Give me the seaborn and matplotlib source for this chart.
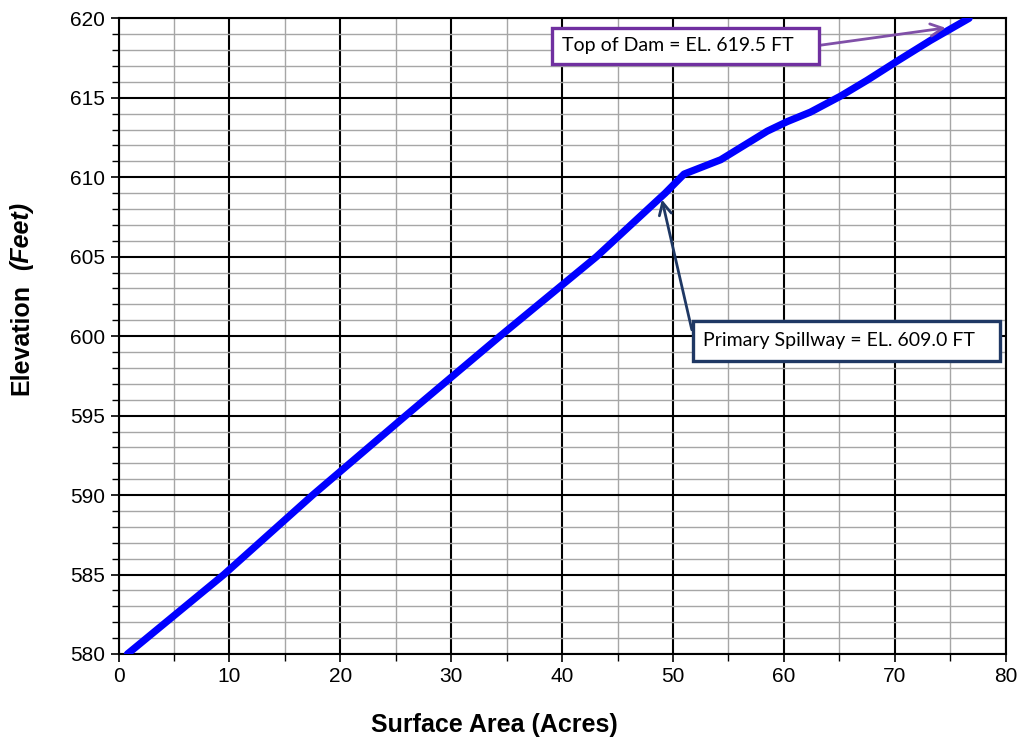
import matplotlib
matplotlib.use("Agg")
import matplotlib.pyplot as plt
from matplotlib.patches import Rectangle
from matplotlib.ticker import MultipleLocator
import seaborn as sns

# stage-area curve
area = [0.8, 9.5, 17.5, 25.9, 34.4, 43.1, 49.3, 51.0, 54.3, 58.5, 60.3,
        62.4, 65.1, 67.5, 70.2, 73.2, 76.7]
elev = [580.0, 585.0, 590.0, 595.0, 600.0, 605.0, 609.0, 610.2, 611.1, 612.9,
        613.5, 614.1, 615.1, 616.1, 617.3, 618.6, 620.0]

dam_label = "Top of Dam = EL. 619.5 FT"
dam_point = (74.6, 619.4)
spill_label = "Primary Spillway = EL. 609.0 FT"
spill_point = (49.0, 608.6)

sns.set_style("white")
plt.rcParams['font.family'] = ['Liberation Sans', 'DejaVu Sans']
plt.rcParams['text.color'] = 'black'
plt.rcParams['axes.labelcolor'] = 'black'

fig = plt.figure(figsize=(10.22, 7.42), dpi=100)
ax = fig.add_axes([0.116, 0.1186, 0.868, 0.8567])

sns.lineplot(x=area, y=elev, sort=False, color="#0000FF", linewidth=5.2, ax=ax, zorder=5)

ax.set_xlim(0, 80)
ax.set_ylim(580, 620)
ax.xaxis.set_major_locator(MultipleLocator(10))
ax.xaxis.set_minor_locator(MultipleLocator(5))
ax.yaxis.set_major_locator(MultipleLocator(5))
ax.yaxis.set_minor_locator(MultipleLocator(1))

ax.grid(which="minor", color="#A6A6A6", linewidth=1.0)
ax.grid(which="major", color="black", linewidth=1.5)
ax.set_axisbelow(True)
for s in ax.spines.values():
    s.set_color("black")
    s.set_linewidth(1.5)

ax.tick_params(which="major", direction="out", length=6, width=1.2, labelsize=15,
               bottom=True, left=True, colors="black")
ax.tick_params(which="minor", direction="out", length=5, width=1.0,
               bottom=True, left=True, colors="black")

# axis titles sit a bit left of centre in the original, so place them by hand
ax.set_xlabel("")
ax.set_ylabel("")
fig.text(494 / 1022, 1 - 725 / 742, "Surface Area (Acres)", ha="center", va="center",
         fontsize=18, fontweight="bold")
fig.text(0.021, 1 - 395 / 742, "Elevation", rotation=90, ha="center", va="bottom",
         fontsize=18, fontweight="bold")
fig.text(0.021, 1 - 270 / 742, "(Feet)", rotation=90, ha="center", va="bottom",
         fontsize=18, fontweight="bold", fontstyle="italic")

# callout boxes (x0, x1, y0, y1 in data units)
def callout(label, x0, x1, y0, y1, edge, tail, head, arrow_color):
    ax.add_patch(Rectangle((x0, y0), x1 - x0, y1 - y0, facecolor="white",
                           edgecolor=edge, linewidth=2.4, zorder=9, clip_on=False))
    ax.text(x0 + 0.9, (y0 + y1) / 2, label, ha="left", va="center",
            fontsize=14, family=["Lato", "DejaVu Sans"], zorder=10)
    ax.annotate("", xy=head, xytext=tail,
                arrowprops=dict(arrowstyle="->", color=arrow_color, lw=2,
                                mutation_scale=22, shrinkA=0, shrinkB=0),
                zorder=8)

callout(dam_label, 39.1, 63.2, 617.13, 619.41, "#7030A0",
        (63.2, 618.3), dam_point, "#8050A8")
callout(spill_label, 51.8, 79.5, 598.46, 600.98, "#1F3864",
        (51.7, 600.4), spill_point, "#1F3864")

fig.savefig("out.png", dpi=100)
